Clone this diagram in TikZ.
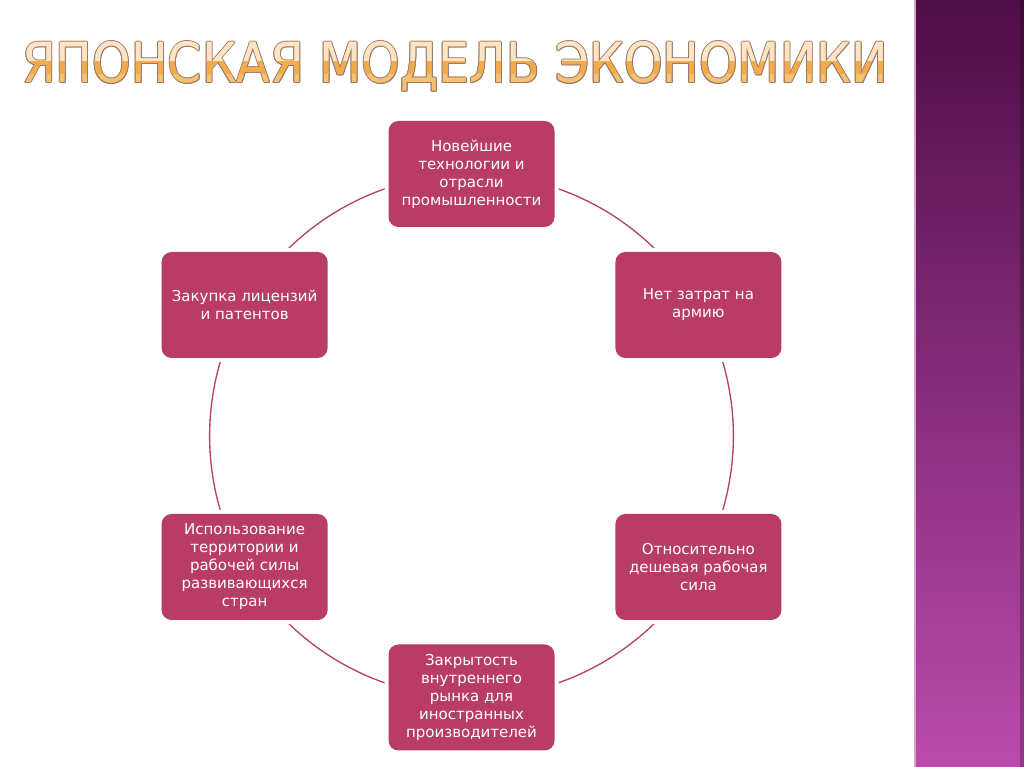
\documentclass[tikz,border=0pt]{standalone}
\usepackage{fontspec}
\setmainfont{DejaVu Sans}
\newfontfamily\titlefont{DejaVu Sans}
\usepackage{graphicx}
\pgfdeclarelayer{background}
\pgfsetlayers{background,main}
\definecolor{boxfill}{HTML}{B83C65}
\definecolor{conn}{HTML}{B5416C}
\definecolor{titleout}{HTML}{9C7A68}
\definecolor{titlebase}{HTML}{F7C172}
\definecolor{titletop}{HTML}{FCE4C6}
\definecolor{titlemid}{HTML}{F3AA48}
\definecolor{stripTop}{HTML}{4F0D46}
\definecolor{stripMid}{HTML}{7E2A75}
\definecolor{stripBot}{HTML}{BA4BAC}
\definecolor{stripEdge}{HTML}{DDA0D4}
\newcommand\titlebox{\resizebox{649.5pt}{30.75pt}{\titlefont ЯПОНСКАЯ МОДЕЛЬ ЭКОНОМИКИ}}
\begin{document}
\begin{tikzpicture}[x=0.75pt,y=0.75pt,
  stage/.style={rectangle, rounded corners=7.5pt, fill=boxfill, text=white,
     minimum width=124.5pt, minimum height=79.5pt, inner sep=0pt, align=center,
     font=\fontsize{11.25}{13.5}\selectfont,
     preaction={draw=white, line width=6pt}},
  link/.style={draw=conn, line width=1pt, bend left=30, looseness=0.9127},
  ttl/.style={anchor=base west, inner sep=0pt, outer sep=0pt}]
\useasboundingbox (0,0) rectangle (1024,767);
% right strip
\shade[top color=stripTop, middle color=stripMid, bottom color=stripBot] (914,0) rectangle (1024,767);
\draw[stripEdge, line width=1.1pt] (915,0) -- (915,767);
\fill[black, opacity=0.22] (1020,0) rectangle (1024,767);
% title
\foreach \dx/\dy [count=\i] in {-1/0,1/0,0/-1,0/1,-0.8/-0.8,0.8/0.8,-0.8/0.8,0.8/-0.8}
  \node[ttl, text=titleout] (tout\i) at (22+\dx,684+\dy) {\titlebox};
\node[ttl, text=titlebase] (tbase) at (22,684) {\titlebox};
\begin{scope}
  \clip (0,705) rectangle (900,740);
  \node[ttl, text=titletop] (ttop) at (22,684) {\titlebox};
\end{scope}
\begin{scope}
  \clip (0,693) rectangle (900,705);
  \node[ttl, text=titlemid] (tmid) at (22,684) {\titlebox};
\end{scope}
% stages
\node[stage] (top) at (471.5,593) {Новейшие\\технологии и\\отрасли\\промышленности};
\node[stage] (rt) at (698.4,462) {Нет затрат на\\армию};
\node[stage] (rb) at (698.4,200) {Относительно\\дешевая рабочая\\сила};
\node[stage] (bot) at (471.5,69.5) {Закрытость\\внутреннего\\рынка для\\иностранных\\производителей};
\node[stage] (lb) at (244.6,200) {Использование\\территории и\\рабочей силы\\развивающихся\\стран};
\node[stage] (lt) at (244.6,462) {Закупка лицензий\\и патентов};
\begin{pgfonlayer}{background}
  \fill[white] (0,0) rectangle (914,767);
  \draw[link] (top.center) to (rt.center);
  \draw[link] (rt.center) to (rb.center);
  \draw[link] (rb.center) to (bot.center);
  \draw[link] (bot.center) to (lb.center);
  \draw[link] (lb.center) to (lt.center);
  \draw[link] (lt.center) to (top.center);
\end{pgfonlayer}
\end{tikzpicture}
\end{document}
